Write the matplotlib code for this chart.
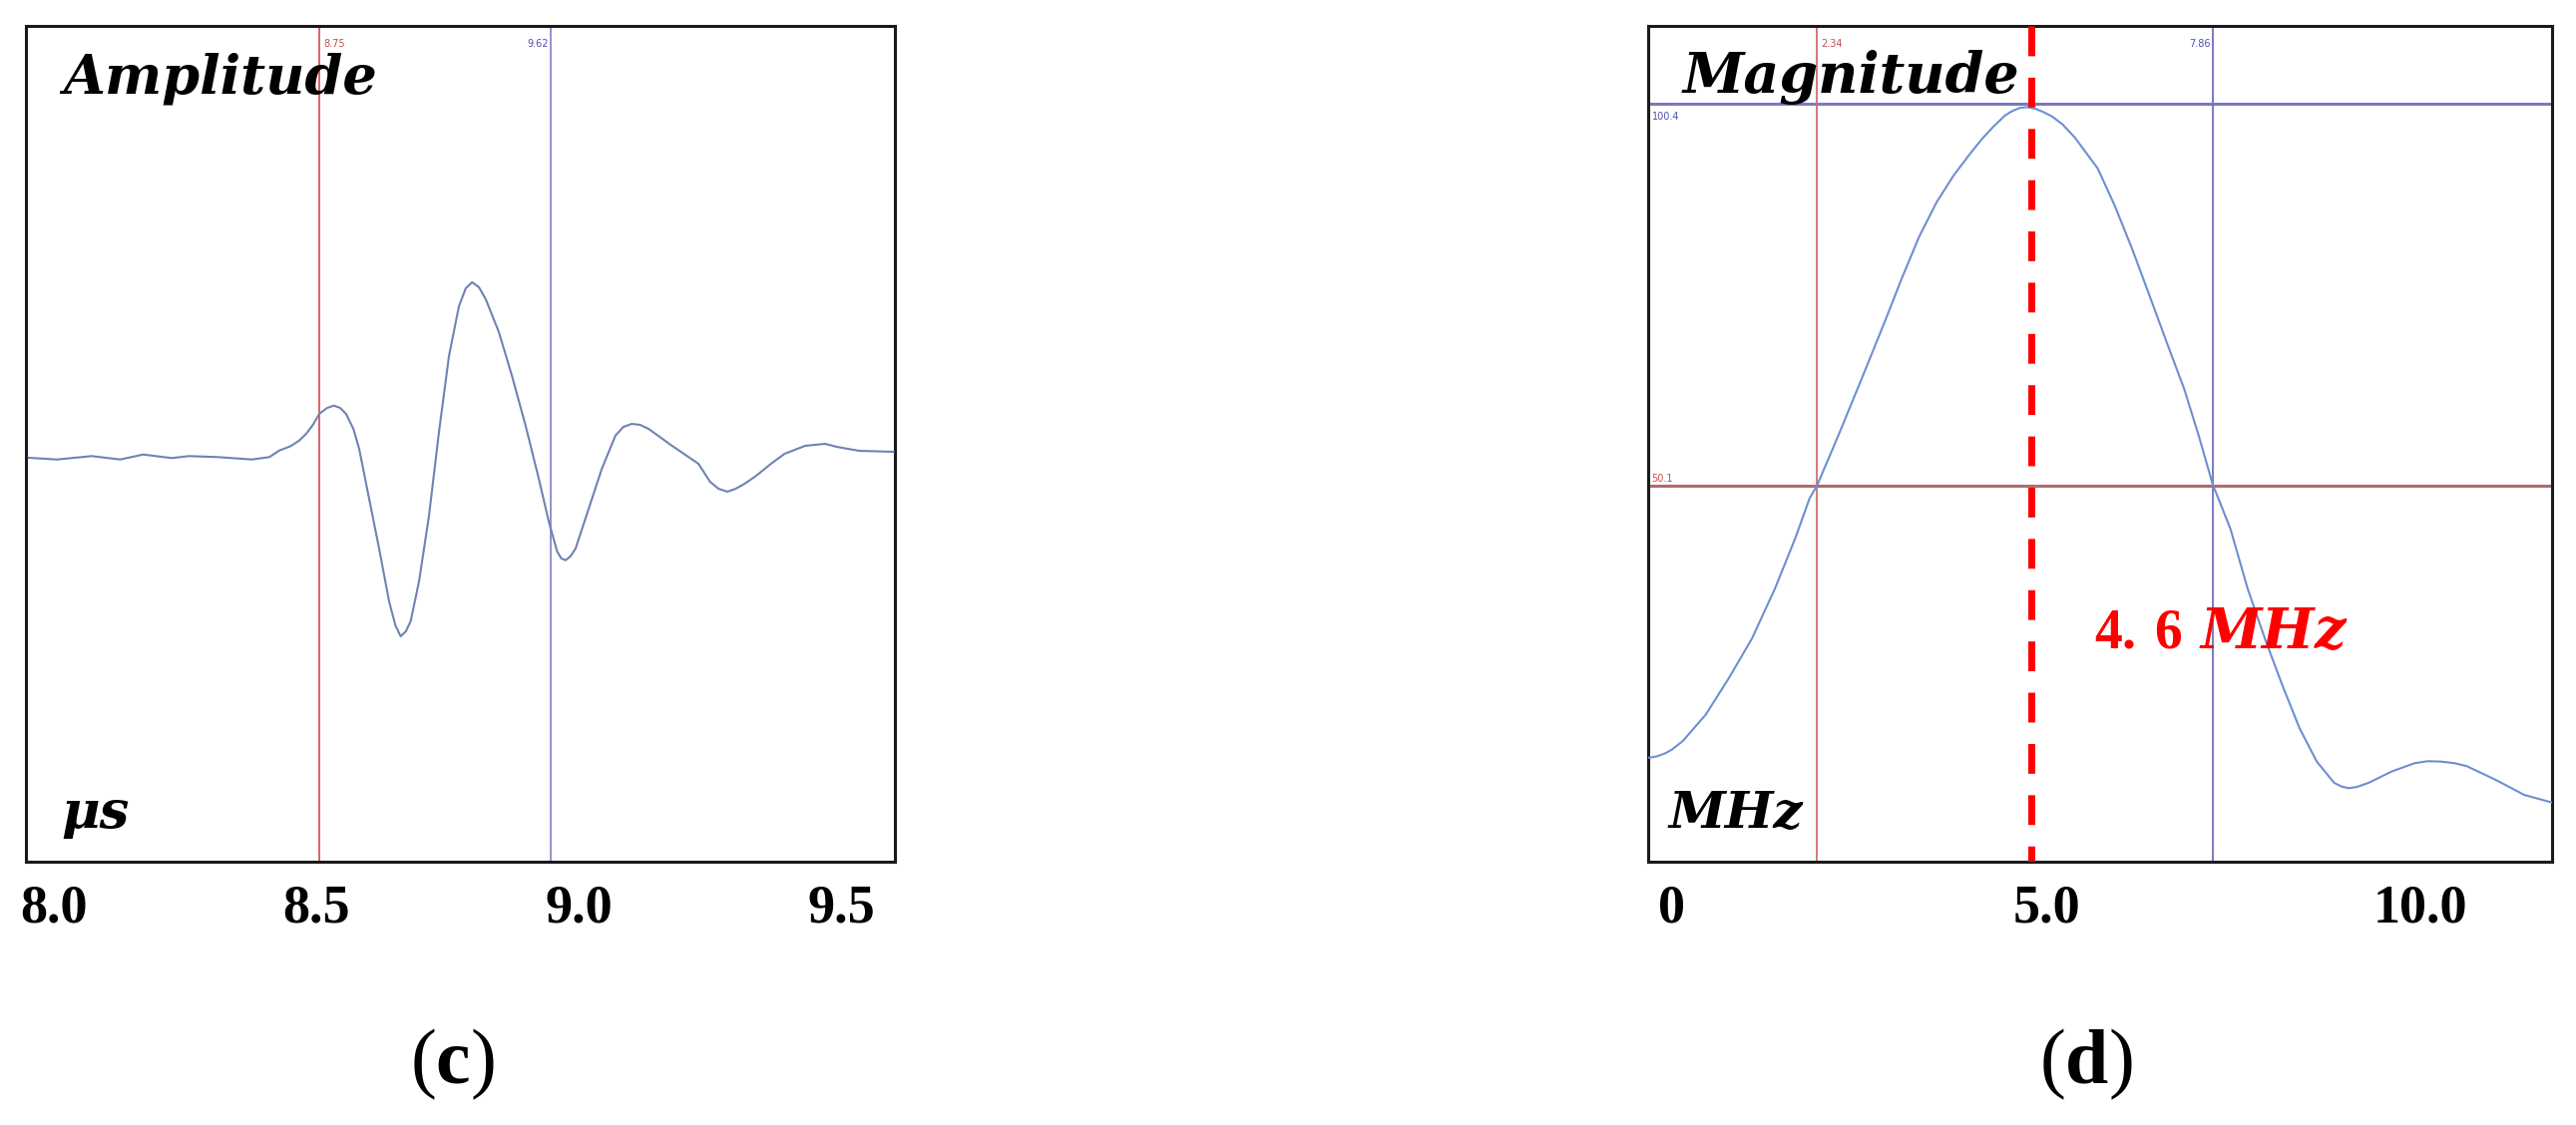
import matplotlib
matplotlib.use("Agg")
import matplotlib.pyplot as plt

plt.rcParams['mathtext.fontset'] = 'custom'
plt.rcParams['mathtext.rm'] = 'Liberation Serif'
plt.rcParams['mathtext.bf'] = 'Liberation Serif:bold'
plt.rcParams['mathtext.it'] = 'DejaVu Serif:italic'
plt.rcParams['mathtext.bfit'] = 'DejaVu Serif:italic:bold'

# ---------------- data: panel (c) time-domain waveform ----------------
time_us = [7.952, 8.006, 8.072, 8.126, 8.170, 8.224, 8.257, 8.312, 8.377, 8.410,
           8.429, 8.450, 8.467, 8.480, 8.493, 8.505, 8.520, 8.533, 8.545, 8.556,
           8.570, 8.581, 8.600, 8.619, 8.638, 8.650, 8.660, 8.670, 8.679, 8.695,
           8.714, 8.733, 8.752, 8.771, 8.784, 8.796, 8.809, 8.822, 8.847, 8.872,
           8.898, 8.923, 8.942, 8.958, 8.966, 8.974, 8.983, 8.993, 9.018, 9.043,
           9.069, 9.084, 9.100, 9.116, 9.132, 9.176, 9.227, 9.249, 9.265, 9.282,
           9.298, 9.315, 9.337, 9.365, 9.391, 9.430, 9.468, 9.490, 9.511, 9.533,
           9.598]
amplitude = [0.0, -1.7, 1.7, -1.7, 3.3, -0.3, 1.7, 0.7, -1.7, 0.7,
             7.3, 11.5, 17.3, 24.0, 33.0, 44.0, 50.0, 52.3, 50.0, 44.0,
             29.0, 9.0, -41.0, -91.0, -144.0, -168.0, -179.0, -174.0, -164.0, -124.0,
             -58.0, 26.0, 102.0, 152.0, 170.0, 176.0, 171.0, 159.0, 126.0, 82.0,
             32.0, -21.0, -64.0, -94.0, -101.0, -102.7, -99.0, -91.0, -51.0, -11.0,
             22.3, 31.0, 34.0, 33.0, 29.0, 12.3, -6.0, -24.0, -31.0, -34.0,
             -31.0, -26.0, -18.0, -6.0, 4.0, 12.0, 14.0, 11.0, 9.0, 7.0,
             6.0]
c_xlim = (7.9466, 9.601)
c_ylim = (-405, 433)
c_ticks = [8.0, 8.5, 9.0, 9.5]
c_ticklabels = ["8.0", "8.5", "9.0", "9.5"]
c_cursor_red = 8.505
c_cursor_blue = 8.945
c_cursor_red_label = "8.75"
c_cursor_blue_label = "9.62"

# ---------------- data: panel (d) frequency spectrum ----------------
freq_mhz = [-0.32, -0.20, -0.089, 0.0, 0.142, 0.450, 0.758, 1.066, 1.374, 1.644,
            1.837, 1.937, 2.222, 2.530, 2.838, 3.069, 3.301, 3.532, 3.763, 3.994,
            4.150, 4.302, 4.450, 4.550, 4.650, 4.750, 4.850, 4.950, 5.073, 5.220,
            5.381, 5.689, 5.920, 6.152, 6.382, 6.613, 6.845, 7.037, 7.229, 7.268,
            7.461, 7.692, 7.923, 8.154, 8.385, 8.616, 8.848, 8.950, 9.040, 9.150,
            9.309, 9.618, 9.926, 10.100, 10.273, 10.450, 10.620, 11.005, 11.390, 11.76]
magnitude = [14.2, 14.4, 14.8, 15.3, 16.4, 19.9, 24.7, 29.9, 36.5, 43.1,
             48.4, 50.1, 56.7, 64.1, 71.6, 77.4, 82.9, 87.4, 91.0, 94.0,
             95.9, 97.5, 98.9, 99.5, 99.9, 100.0, 99.8, 99.4, 98.8, 97.7,
             96.0, 91.9, 86.9, 81.2, 75.1, 68.9, 62.8, 56.7, 50.1, 49.2,
             44.4, 36.5, 29.9, 23.8, 18.1, 13.7, 10.9, 10.4, 10.2, 10.35,
             10.9, 12.4, 13.5, 13.75, 13.7, 13.5, 13.1, 11.3, 9.3, 8.3]
d_xlim = (-0.32, 11.76)
d_ylim = (0.5, 110.7)
d_ticks = [0, 5, 10]
d_ticklabels = ["0", "5.0", "10.0"]
d_cursor_red = 1.937
d_cursor_blue = 7.229
d_level_max = 100.4
d_level_half = 50.1
d_center = 4.80
d_center_label = r"$\mathbf{4.\,6}\ \mathbfit{MHz}$"

fig = plt.figure(figsize=(25.82, 11.28), dpi=100)
fig.patch.set_facecolor('white')

axc = fig.add_axes([26/2582, 1-864/1128, 871/2582, 838/1128])
axd = fig.add_axes([1652/2582, 1-864/1128, 906/2582, 838/1128])

for ax in (axc, axd):
    for s in ax.spines.values():
        s.set_linewidth(2.2)
        s.set_color('#1a1a1a')
    ax.tick_params(axis='both', length=0)
    ax.set_yticks([])

tick_font = dict(family='Liberation Serif', size=39, weight='bold')

# ---- panel (c)
axc.set_xlim(*c_xlim)
axc.set_ylim(*c_ylim)
axc.axvline(c_cursor_red, color='#d95555', lw=1.3, zorder=1)
axc.axvline(c_cursor_blue, color='#8a8ac8', lw=1.3, zorder=1)
axc.plot(time_us, amplitude, color='#6f83b2', lw=1.5, zorder=3,
         solid_joinstyle='round')
axc.set_xticks(c_ticks)
axc.set_xticklabels(c_ticklabels, fontdict=tick_font)
axc.tick_params(axis='x', pad=16)
axc.text(c_cursor_red + 0.008, 0.985, c_cursor_red_label, transform=axc.get_xaxis_transform(),
         color='#c05050', fontsize=7, va='top', ha='left')
axc.text(c_cursor_blue - 0.004, 0.985, c_cursor_blue_label, transform=axc.get_xaxis_transform(),
         color='#5050a0', fontsize=7, va='top', ha='right')
axc.text(0.0425, 0.920, 'Amplitude', transform=axc.transAxes, family='DejaVu Serif',
         style='italic', weight='bold', size=39, va='baseline', ha='left')
axc.text(0.041, 0.040, 'μs', transform=axc.transAxes, family='DejaVu Serif',
         style='italic', weight='bold', size=38, va='baseline', ha='left')

# ---- panel (d)
axd.set_xlim(*d_xlim)
axd.set_ylim(*d_ylim)
axd.axhline(d_level_max, color='#7a7ac4', lw=2.2, zorder=1)
axd.axhline(d_level_half, color='#b56a6a', lw=2.2, zorder=1)
axd.axvline(d_cursor_red, color='#d07070', lw=1.3, zorder=1)
axd.axvline(d_cursor_blue, color='#7070c0', lw=1.3, zorder=1)
axd.plot(freq_mhz, magnitude, color='#6d8fd0', lw=1.5, zorder=3,
         solid_joinstyle='round')
axd.plot([d_center, d_center], [d_ylim[1], d_ylim[0]], color='#ff0000', lw=5,
         dashes=(4.3, 3.1), zorder=4, solid_capstyle='butt', dash_capstyle='butt')
axd.set_xticks(d_ticks)
axd.set_xticklabels(d_ticklabels, fontdict=tick_font)
axd.tick_params(axis='x', pad=16)
axd.text(d_cursor_red + 0.05, 0.985, '2.34', transform=axd.get_xaxis_transform(),
         color='#c05050', fontsize=7, va='top', ha='left')
axd.text(d_cursor_blue - 0.03, 0.985, '7.86', transform=axd.get_xaxis_transform(),
         color='#5050b0', fontsize=7, va='top', ha='right')
axd.text(0.004, d_level_max - 1.0, '100.4', transform=axd.get_yaxis_transform(),
         color='#5050b0', fontsize=7, va='top', ha='left')
axd.text(0.004, d_level_half + 0.3, '50.1', transform=axd.get_yaxis_transform(),
         color='#c05050', fontsize=7, va='bottom', ha='left')
axd.text(0.038, 0.920, 'Magnitude', transform=axd.transAxes, family='DejaVu Serif',
         style='italic', weight='bold', size=40, va='baseline', ha='left')
axd.text(0.023, 0.040, 'MHz', transform=axd.transAxes, family='DejaVu Serif',
         style='italic', weight='bold', size=37, va='baseline', ha='left')
axd.text(0.493, 0.255, d_center_label, transform=axd.transAxes, color='#ff0000',
         size=40, va='baseline', ha='left')

# ---- panel captions
fig.text(453/2582, 1-1067/1128, r'$(\mathbf{c})$', size=56, ha='center', va='center')
fig.text(2091/2582, 1-1067/1128, r'$(\mathbf{d})$', size=56, ha='center', va='center')

fig.savefig('out.png', dpi=100, facecolor='white')
